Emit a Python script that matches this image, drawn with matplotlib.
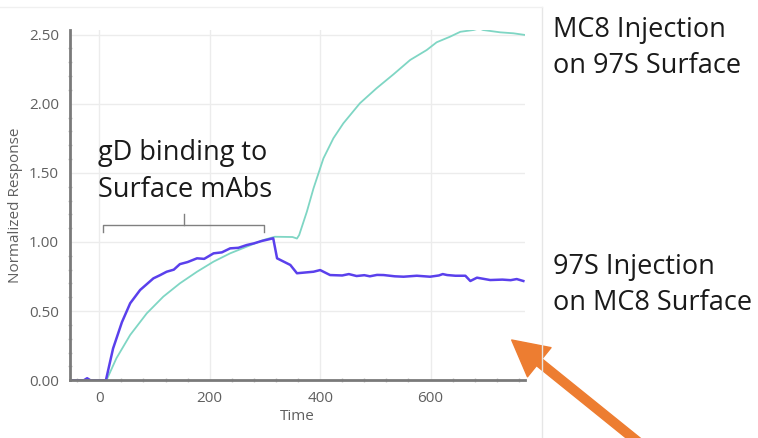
import matplotlib
matplotlib.use('Agg')
import matplotlib.pyplot as plt
from matplotlib.ticker import MultipleLocator

# 97S injection on MC8 surface (blue)
blue_time = [-50, -28, -22, -16, 12, 25, 41, 56, 74, 98, 110, 122, 135, 146, 160, 177, 190,
             207, 222, 237, 252, 267, 280, 294, 315, 322, 333, 346, 358, 388, 400, 418,
             440, 452, 466, 480, 490, 503, 515, 535, 551, 575, 599, 615, 622, 630, 645,
             663, 672, 684, 708, 730, 745, 756, 768]
blue_resp = [0, 0, 0.015, 0, 0, 0.23, 0.42, 0.557, 0.653, 0.737, 0.76, 0.785, 0.80, 0.84,
             0.855, 0.882, 0.878, 0.918, 0.925, 0.954, 0.958, 0.978, 0.99, 1.007, 1.027,
             0.882, 0.86, 0.834, 0.774, 0.785, 0.797, 0.761, 0.758, 0.768, 0.754, 0.76,
             0.752, 0.762, 0.761, 0.752, 0.749, 0.756, 0.749, 0.758, 0.768, 0.761, 0.756,
             0.756, 0.718, 0.742, 0.725, 0.728, 0.724, 0.732, 0.718]

# MC8 injection on 97S surface (teal)
teal_time = [-50, 13, 31, 56, 86, 116, 146, 177, 207, 237, 267, 297, 318, 350, 358, 362,
             376, 388, 406, 424, 442, 472, 502, 533, 563, 593, 611, 635, 654, 678, 688,
             695, 726, 750, 771]
teal_resp = [0, 0, 0.159, 0.328, 0.484, 0.605, 0.701, 0.785, 0.858, 0.918, 0.966, 1.014,
             1.038, 1.036, 1.025, 1.05, 1.22, 1.388, 1.605, 1.75, 1.858, 2.003, 2.111,
             2.213, 2.316, 2.388, 2.444, 2.484, 2.52, 2.533, 2.545, 2.533, 2.516, 2.509,
             2.497]

x_ticks = [0, 200, 400, 600]
y_ticks = [0.0, 0.5, 1.0, 1.5, 2.0, 2.5]

# bracket over the association phase
bracket_x = [7, 7, 298, 298]
bracket_y = [1.07, 1.121, 1.121, 1.07]
bracket_mid = 154

plt.rcParams['font.family'] = ['Open Sans', 'DejaVu Sans']

fig = plt.figure(figsize=(7.58, 4.38), dpi=100)
ax = fig.add_axes([70 / 758, 57.7 / 438, 455 / 758, 350.6 / 438])

ax.plot(teal_time, teal_resp, color='#7fd6c4', lw=1.3, zorder=2)
ax.plot(blue_time, blue_resp, color='#5a40ec', lw=1.8, zorder=2.1)

ax.set_xlim(-53, 771)
ax.set_ylim(0, 2.535)
ax.set_xticks(x_ticks)
ax.set_yticks(y_ticks)
ax.set_yticklabels(['%.2f' % v for v in y_ticks])
ax.xaxis.set_minor_locator(MultipleLocator(40))
ax.yaxis.set_minor_locator(MultipleLocator(0.1))
ax.tick_params(which='major', length=0, labelsize=11, colors='#606060', pad=8)
ax.tick_params(which='minor', length=2.5, width=1, direction='inout', color='#c4c4c4')
ax.grid(True, color='#ececec', lw=1)
ax.set_axisbelow(True)

for s in ['top', 'right']:
    ax.spines[s].set_visible(False)
for s in ['left', 'bottom']:
    ax.spines[s].set_color('#7a7a7a')
    ax.spines[s].set_linewidth(2)

ax.set_xlabel('Time', fontsize=11, color='#606060', labelpad=2)
ax.set_ylabel('Normalized Response', fontsize=11, color='#606060', labelpad=4)

ax.plot(bracket_x, bracket_y, color='#808080', lw=1)
ax.plot([bracket_mid, bracket_mid], [1.121, 1.2], color='#808080', lw=1)
ax.text(-3, 1.51, 'gD binding to\nSurface mAbs', fontsize=19.5, color='#1a1a1a',
        ha='left', va='center', linespacing=1.4)

fig.text(553 / 758, 1 - 48 / 438, 'MC8 Injection\non 97S Surface', fontsize=19.5,
         color='#1a1a1a', ha='left', va='center', linespacing=1.42)
fig.text(553 / 758, 1 - 285 / 438, '97S Injection\non MC8 Surface', fontsize=19.5,
         color='#1a1a1a', ha='left', va='center', linespacing=1.42)

# frame lines of the slide
fig.add_artist(plt.Line2D([541.7 / 758, 541.7 / 758], [0, 1 - 7 / 438],
                          color='#e6e6e6', lw=1))
fig.add_artist(plt.Line2D([0, 541.7 / 758], [1 - 7 / 438, 1 - 7 / 438],
                          color='#f0f0f0', lw=1))

ax.annotate('', xy=(511.7, 438 - 340), xytext=(648, -12), xycoords='figure pixels',
            textcoords='figure pixels', annotation_clip=False,
            arrowprops=dict(arrowstyle='simple,head_length=1.7,head_width=1.8,tail_width=0.42',
                            color='#ed7d31', mutation_scale=15, shrinkA=0, shrinkB=0))

fig.savefig('out.png', dpi=100)
